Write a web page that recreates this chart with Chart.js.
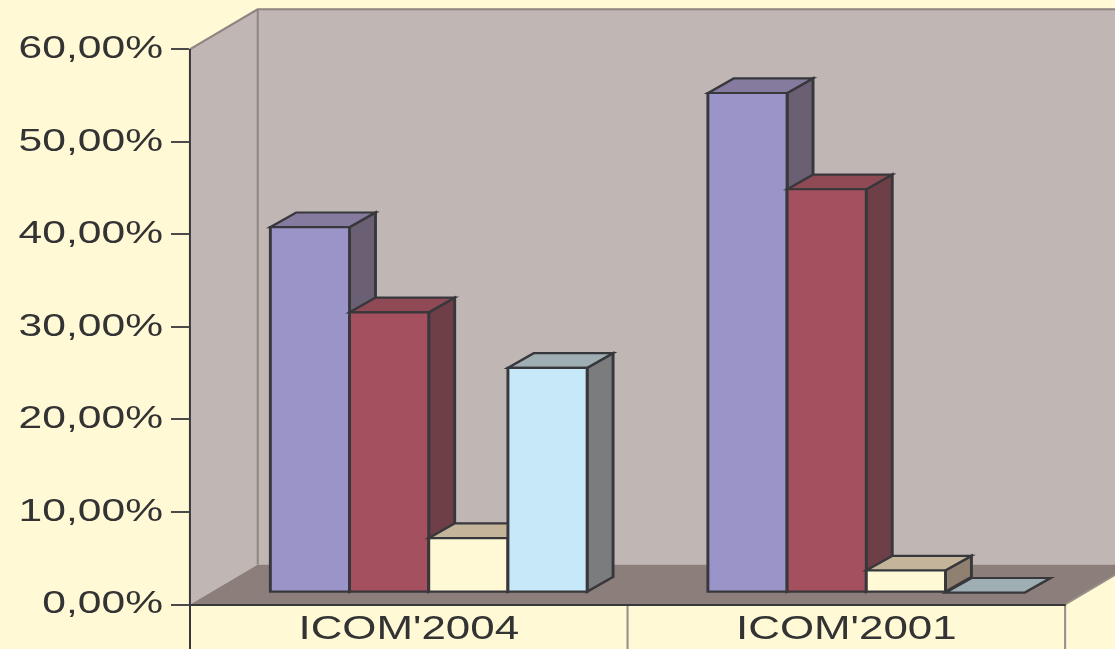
<!DOCTYPE html>
<html>
<head>
<meta charset="utf-8">
<script src="https://cdn.jsdelivr.net/npm/chart.js@4/dist/chart.umd.min.js"></script>
<style>
  html, body { margin: 0; padding: 0; background: #FFF9D6; overflow: hidden; }
  canvas { display: block; }
</style>
</head>
<body>
<canvas id="chart" width="838" height="649"></canvas>
<script>
// ---- data ----
const categories = ["ICOM'2004", "ICOM'2001"];
const serie1 = [39.5, 54.0];
const serie2 = [30.3, 43.6];
const serie3 = [5.9, 2.4];
const serie4 = [24.3, 0.0];
const yTickLabels = ['0,00%', '10,00%', '20,00%', '30,00%', '40,00%', '50,00%', '60,00%'];

// ---- styles ----
const frontColors = ['#9B94C8', '#A4505F', '#FFF9D6', '#C7E8F8'];
const topColors   = ['#857B9E', '#8F4A55', '#C4B59A', '#9EAEB3'];
const sideColors  = ['#6A5F73', '#6F3F48', '#8F8070', '#7B7C7E'];
const FONT = "'Liberation Sans', Arial, Helvetica, sans-serif";
const PAGE_BG = '#FFF9D6';
const WALL_COLOR = '#C0B6B4';
const FLOOR_COLOR = '#8C7F7B';
const EDGE_COLOR = '#8E8480';
const INK = '#38383C';

// the chart is laid out on a narrower logical width and stretched horizontally
const OUT_W = 1115, OUT_H = 649, LOGICAL_W = 838;
const SX = OUT_W / LOGICAL_W;

// oblique projection offsets (logical px)
const WALL = { dx: 50.9, dy: -40 };       // full depth of the room
const BAR_SHIFT = { dx: 15.0, dy: -11.8 }; // front plane of the bars
const BAR_DEPTH = { dx: 19.5, dy: -14.7 }; // thickness of each bar

function poly(ctx, pts) {
  ctx.beginPath();
  ctx.moveTo(pts[0][0], pts[0][1]);
  for (let k = 1; k < pts.length; k++) ctx.lineTo(pts[k][0], pts[k][1]);
  ctx.closePath();
}

function line(ctx, pts) {
  ctx.beginPath();
  ctx.moveTo(pts[0][0], pts[0][1]);
  for (let k = 1; k < pts.length; k++) ctx.lineTo(pts[k][0], pts[k][1]);
  ctx.stroke();
}

// back wall, side wall, floor and the base band under the floor
function drawRoom(chart) {
  const ctx = chart.ctx;
  const { left: L, right: R, top: T, bottom: B } = chart.chartArea;
  const farRight = LOGICAL_W + 80;
  ctx.save();
  ctx.fillStyle = PAGE_BG;
  ctx.fillRect(0, 0, LOGICAL_W, OUT_H);

  ctx.fillStyle = WALL_COLOR;
  ctx.fillRect(L + WALL.dx, T + WALL.dy, farRight, B - T);
  poly(ctx, [[L, B], [L, T], [L + WALL.dx, T + WALL.dy], [L + WALL.dx, B + WALL.dy]]);
  ctx.fill();

  ctx.fillStyle = FLOOR_COLOR;
  poly(ctx, [[L, B], [R, B], [R + WALL.dx, B + WALL.dy], [L + WALL.dx, B + WALL.dy]]);
  ctx.fill();

  ctx.strokeStyle = EDGE_COLOR;
  ctx.lineWidth = 2;
  line(ctx, [[L, T], [L + WALL.dx, T + WALL.dy], [farRight, T + WALL.dy]]);
  ctx.lineWidth = 1.5;
  line(ctx, [[L + WALL.dx, T + WALL.dy], [L + WALL.dx, B + WALL.dy]]);

  // category dividers and right edge of the base
  const xs = chart.scales.x;
  ctx.strokeStyle = '#9A9189';
  ctx.lineWidth = 1.6;
  for (let j = 1; j < categories.length; j++) {
    const mid = (xs.getPixelForValue(j - 1) + xs.getPixelForValue(j)) / 2;
    line(ctx, [[mid, B], [mid, OUT_H]]);
  }
  line(ctx, [[R, OUT_H], [R, B], [R + WALL.dx, B + WALL.dy]]);
  ctx.restore();
}

// 3D bars built from the bar elements laid out by Chart.js
function drawBars(chart) {
  const ctx = chart.ctx;
  ctx.save();
  ctx.strokeStyle = INK;
  ctx.lineWidth = 2.2;
  ctx.lineJoin = 'miter';
  const { dx, dy } = BAR_DEPTH;
  for (let j = 0; j < categories.length; j++) {
    chart.data.datasets.forEach((ds, i) => {
      const meta = chart.getDatasetMeta(i);
      const el = meta.data[j];
      const p = el.getProps(['x', 'y', 'base', 'width'], true);
      const l = p.x - p.width / 2 + BAR_SHIFT.dx;
      const r = p.x + p.width / 2 + BAR_SHIFT.dx;
      const t = Math.min(p.y, p.base) + BAR_SHIFT.dy;
      const b = Math.max(p.y, p.base) + BAR_SHIFT.dy;
      const h = b - t;
      if (h > 0.5) {
        poly(ctx, [[r, t], [r + dx, t + dy], [r + dx, b + dy], [r, b]]);
        ctx.fillStyle = sideColors[i]; ctx.fill(); ctx.stroke();
      }
      poly(ctx, [[l, t], [l + dx, t + dy], [r + dx, t + dy], [r, t]]);
      ctx.fillStyle = topColors[i]; ctx.fill(); ctx.stroke();
      if (h > 0.5) {
        poly(ctx, [[l, t], [r, t], [r, b], [l, b]]);
        ctx.fillStyle = ds.backgroundColor; ctx.fill(); ctx.stroke();
      }
    });
  }
  ctx.restore();
}

const room3d = {
  id: 'room3d',
  beforeDraw(chart) {
    const ctx = chart.ctx;
    ctx.save();
    ctx.setTransform(SX, 0, 0, 1, 0, 0);
    drawRoom(chart);
  },
  beforeDatasetsDraw(chart) {
    drawBars(chart);
    return false;
  },
  afterDraw(chart) {
    const ctx = chart.ctx;
    const a = chart.chartArea;
    ctx.save();
    ctx.strokeStyle = INK;
    ctx.lineWidth = 1.5;
    line(ctx, [[a.left, a.bottom], [a.left, OUT_H]]);
    ctx.restore();
    ctx.restore();
  }
};

const canvas = document.getElementById('chart');
const chart = new Chart(canvas, {
  type: 'bar',
  data: {
    labels: categories,
    datasets: [
      { label: 'Série 1', data: serie1, backgroundColor: frontColors[0] },
      { label: 'Série 2', data: serie2, backgroundColor: frontColors[1] },
      { label: 'Série 3', data: serie3, backgroundColor: frontColors[2] },
      { label: 'Série 4', data: serie4, backgroundColor: frontColors[3] }
    ]
  },
  options: {
    responsive: false,
    animation: false,
    events: [],
    devicePixelRatio: 1,
    layout: { padding: { top: 49.3, right: 37.5, bottom: 0, left: 0 } },
    datasets: { bar: { categoryPercentage: 0.724, barPercentage: 1 } },
    plugins: { legend: { display: false }, tooltip: { enabled: false } },
    scales: {
      x: {
        grid: { display: true, drawOnChartArea: false, drawTicks: false, color: 'rgba(0,0,0,0)' },
        border: { display: true, color: INK, width: 2 },
        ticks: { padding: 6, color: '#333', font: { family: FONT, size: 33, lineHeight: 1.2 } },
        afterFit(s) { s.height = 44.5; }
      },
      y: {
        min: 0,
        max: 60,
        ticks: {
          stepSize: 10,
          padding: 6,
          color: '#333',
          font: { family: FONT, size: 32, lineHeight: 1.2 },
          callback: (v) => yTickLabels[Math.round(v / 10)]
        },
        grid: { drawOnChartArea: false, drawTicks: true, tickLength: 14.3, color: '#4A4A4A', lineWidth: 2 },
        border: { display: true, color: INK, width: 1.5 },
        afterFit(s) { s.width = 142.8; }
      }
    }
  },
  plugins: [room3d]
});

// widen the drawing surface to the output size; the plugin stretches the logical layout onto it
canvas.width = OUT_W;
canvas.height = OUT_H;
canvas.style.width = OUT_W + 'px';
canvas.style.height = OUT_H + 'px';
chart.draw();
</script>
</body>
</html>
